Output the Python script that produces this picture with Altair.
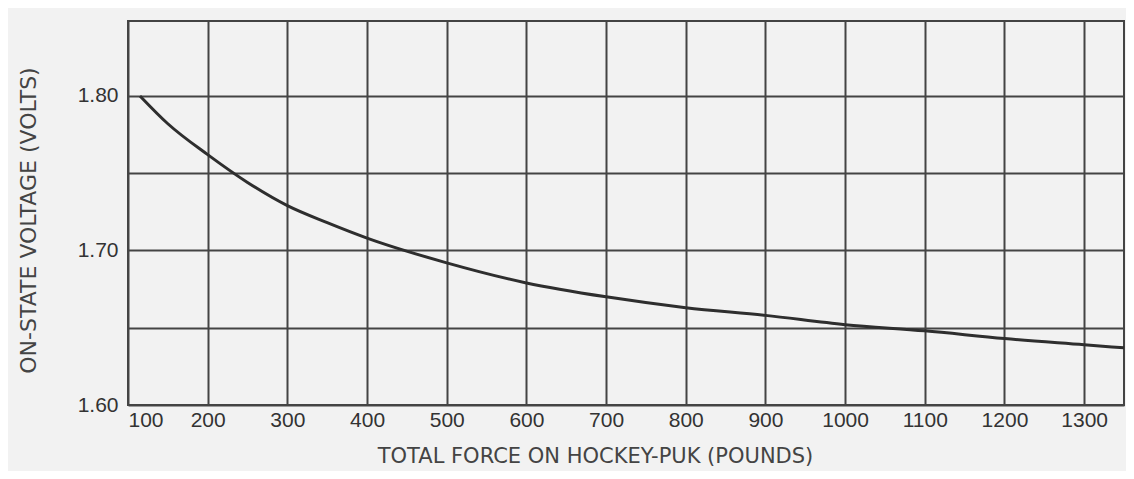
import json
import altair as alt
import pandas as pd

# Curve
force = [115, 150, 200, 250, 300, 350, 400, 500, 600, 700, 800, 900, 1000, 1100, 1200, 1300, 1350]
voltage = [1.800, 1.782, 1.762, 1.744, 1.729, 1.718, 1.708, 1.692, 1.679, 1.670, 1.663,
           1.658, 1.652, 1.648, 1.643, 1.639, 1.637]

x_ticks = [100, 200, 300, 400, 500, 600, 700, 800, 900, 1000, 1100, 1200, 1300]
x_domain = [100, 1350]
y_grid = [1.60, 1.65, 1.70, 1.75, 1.80]
y_labels = ["1.60", "1.70", "1.80"]
y_domain = [1.60, 1.8485]

x_title = "TOTAL FORCE ON HOCKEY-PUK (POUNDS)"
y_title = "ON-STATE VOLTAGE (VOLTS)"

df = pd.DataFrame({"force": force, "voltage": voltage})

y_label_expr = (
    "indexof(" + json.dumps(y_labels) + ", format(datum.value, '.2f')) >= 0 ? "
    "format(datum.value, '.2f') : ''"
)

grid_color = "#444444"

chart = (
    alt.Chart(df)
    .mark_line(color="#2e2e2e", strokeWidth=3, interpolate="monotone")
    .encode(
        x=alt.X(
            "force:Q",
            scale=alt.Scale(domain=x_domain, nice=False, zero=False),
            axis=alt.Axis(
                values=x_ticks,
                format="d",
                title=x_title,
                grid=True,
                gridColor=grid_color,
                gridWidth=2,
                gridOpacity=1,
                ticks=False,
                domain=False,
                labelFont="Liberation Sans",
                labelFontSize=21,
                labelColor="#333333",
                labelPadding=4,
                titleFont="DejaVu Sans",
                titleFontSize=21,
                titleFontWeight="normal",
                titleColor="#444444",
                titleX=467,
                titleY=51,
                titleAlign="center",
                titleBaseline="middle",
            ),
        ),
        y=alt.Y(
            "voltage:Q",
            scale=alt.Scale(domain=y_domain, nice=False, zero=False),
            axis=alt.Axis(
                values=y_grid,
                labelExpr=y_label_expr,
                title=y_title,
                grid=True,
                gridColor=grid_color,
                gridWidth=2,
                gridOpacity=1,
                ticks=False,
                domain=False,
                labelFont="Liberation Sans",
                labelFontSize=21,
                labelColor="#333333",
                labelPadding=10,
                titleFont="DejaVu Sans",
                titleFontSize=22,
                titleFontWeight="normal",
                titleColor="#444444",
                titleX=-100,
                titleY=199,
                titleAngle=-90,
                titleAlign="center",
                titleBaseline="middle",
            ),
        ),
    )
    .properties(
        width=996,
        height=384,
        padding={"left": 120, "top": 13, "right": 2, "bottom": 66},
        autosize=alt.AutoSizeParams(type="none"),
        background="#f2f2f2",
    )
    .configure_view(stroke="#444444", strokeWidth=2)
)

chart.save("out.html", embed_options={"renderer": "svg", "actions": False})
